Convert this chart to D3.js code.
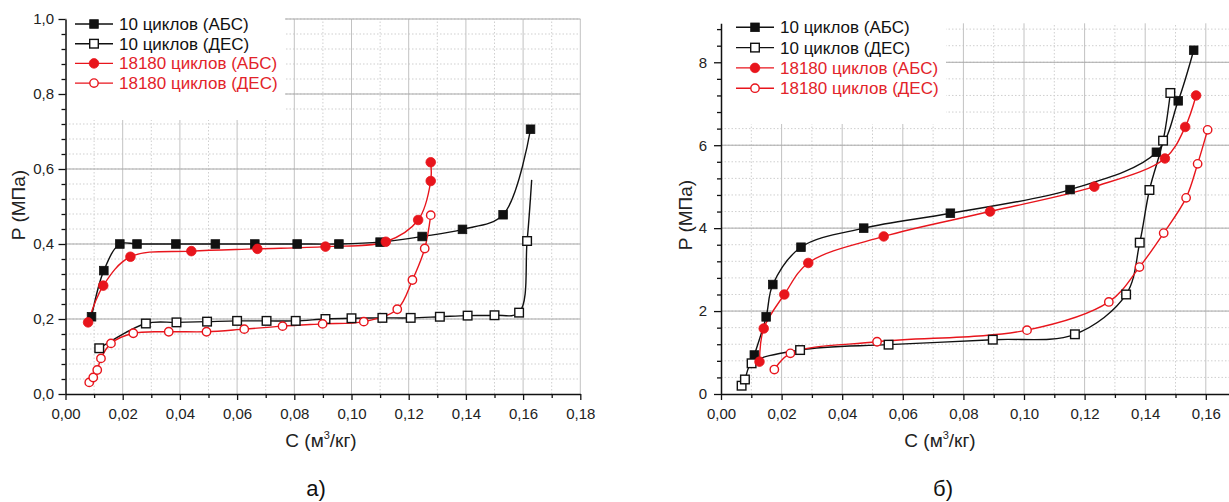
<!DOCTYPE html>
<html>
<head>
<meta charset="utf-8">
<script src="https://cdn.jsdelivr.net/npm/d3@7"></script>
<style>
  html, body { margin: 0; padding: 0; background: #fff; }
  svg { display: block; font-family: "Liberation Sans", Arial, sans-serif; }
</style>
</head>
<body>
<svg id="chart" width="1229" height="502"></svg>
<script>
// Two P–C isotherm panels: а) and б)

// ---- data: [C (м3/кг), P (МПа)] ----
// panel а)
const a_abs10 = [[0.0091,0.206],[0.0134,0.329],[0.019,0.40],[0.025,0.40],[0.0386,0.40],[0.0524,0.40],
  [0.0662,0.40],[0.081,0.40],[0.0956,0.40],[0.110,0.405],[0.1247,0.42],[0.1388,0.439],[0.153,0.478],[0.1626,0.706]];
const a_des10 = [[0.0118,0.122],[0.0281,0.188],[0.0388,0.191],[0.0495,0.193],[0.060,0.195],[0.0703,0.195],
  [0.0805,0.195],[0.0909,0.20],[0.100,0.202],[0.1108,0.203],[0.1207,0.203],[0.1309,0.206],[0.1406,0.209],
  [0.150,0.21],[0.1586,0.217],[0.1614,0.408]];
const a_des10Tail = [[0.163,0.571]]; // line end without marker
const a_abs18180 = [[0.0079,0.191],[0.0132,0.289],[0.0227,0.366],[0.044,0.381],[0.0671,0.387],[0.0909,0.393],
  [0.112,0.406],[0.1233,0.464],[0.1277,0.568],[0.1277,0.618]];
const a_des18180 = [[0.0083,0.031],[0.0097,0.044],[0.0111,0.064],[0.0124,0.095],[0.0159,0.135],[0.0237,0.162],
  [0.0361,0.166],[0.0493,0.166],[0.0625,0.173],[0.0759,0.181],[0.0899,0.187],[0.1043,0.193],[0.116,0.226],
  [0.1213,0.304],[0.1256,0.388],[0.1277,0.477]];

// panel б)
const b_abs10 = [[0.011,0.94],[0.0149,1.86],[0.0171,2.64],[0.0264,3.54],[0.0471,4.0],[0.0757,4.36],
  [0.1152,4.93],[0.1437,5.83],[0.1509,7.07],[0.156,8.29]];
const b_des10 = [[0.0068,0.2],[0.0079,0.35],[0.0101,0.74],[0.0261,1.06],[0.0553,1.19],[0.0897,1.31],
  [0.1168,1.44],[0.1337,2.40],[0.1382,3.65],[0.1414,4.92],[0.1459,6.11],[0.1483,7.26]];
const b_abs18180 = [[0.0127,0.78],[0.0141,1.58],[0.0209,2.40],[0.0288,3.16],[0.0537,3.80],[0.0888,4.40],
  [0.1232,5.0],[0.1465,5.68],[0.1532,6.44],[0.1568,7.20]];
const b_des18180 = [[0.0176,0.59],[0.0229,0.98],[0.0515,1.26],[0.101,1.54],[0.128,2.22],[0.1381,3.06],
  [0.1461,3.88],[0.1535,4.73],[0.1573,5.55],[0.1606,6.37]];

// ticks and labels
const a_xTicks = [0, 0.02, 0.04, 0.06, 0.08, 0.10, 0.12, 0.14, 0.16, 0.18];
const b_xTicks = [0, 0.02, 0.04, 0.06, 0.08, 0.10, 0.12, 0.14, 0.16];
const a_yTicks = [0, 0.2, 0.4, 0.6, 0.8, 1.0];
const b_yTicks = [0, 2, 4, 6, 8];
const legendLabels = ['10 циклов (АБС)', '10 циклов (ДЕС)', '18180 циклов (АБС)', '18180 циклов (ДЕС)'];
const xTitle = 'C (м';
const yTitle = 'P (МПа)';
const captions = ['а)', 'б)'];

const RED = '#e8151c';
const W = 1229;
const svg = d3.select('#chart');
const comma = f => v => d3.format(f)(v).replace('.', ',');

function drawPanel(o) {
  const g = svg.append('g');
  const x = o.x, y = o.y;
  const [x0, x1] = x.range();
  const xEnd = Math.min(x1, W);
  const [yb, yt] = y.range();

  // grid
  const grid = g.append('g');
  const xMinor = d3.range(0.01, 0.181, 0.02).filter(v => x(v) <= W);
  const xMajor = d3.range(0.02, 0.181, 0.02).filter(v => x(v) <= W);
  grid.selectAll('.vmin').data(xMinor).join('line')
    .attr('x1', d => x(d)).attr('x2', d => x(d)).attr('y1', yb).attr('y2', yt)
    .attr('stroke', '#cfcfcf').attr('stroke-dasharray', '1.5,2');
  grid.selectAll('.hmin').data(o.yMinor).join('line')
    .attr('x1', x0).attr('x2', xEnd).attr('y1', d => y(d)).attr('y2', d => y(d))
    .attr('stroke', '#cfcfcf').attr('stroke-dasharray', '1.5,2');
  grid.selectAll('.vmaj').data(xMajor).join('line')
    .attr('x1', d => x(d)).attr('x2', d => x(d)).attr('y1', yb).attr('y2', yt)
    .attr('stroke', '#c2c2c2');
  grid.selectAll('.hmaj').data(o.yTicks.slice(1)).join('line')
    .attr('x1', x0).attr('x2', xEnd).attr('y1', d => y(d)).attr('y2', d => y(d))
    .attr('stroke', '#a9a9a9');

  // legend backdrop hides grid
  g.append('rect').attr('x', x0 + 1).attr('y', yt - 4)
    .attr('width', o.maskRight - x0 - 1).attr('height', o.maskBottom - yt + 4)
    .attr('fill', '#fff');

  // axes
  const ax = g.append('g');
  ax.append('g').attr('transform', `translate(0,${yb})`)
    .call(d3.axisBottom(x).tickValues(o.xTicks).tickFormat(comma('.2f')).tickSize(6).tickSizeOuter(0).tickPadding(8.5));
  ax.append('g').attr('transform', `translate(0,${yb})`)
    .call(d3.axisBottom(x).tickValues(xMinor).tickFormat('').tickSize(4).tickSizeOuter(0))
    .select('.domain').remove();
  ax.append('g').attr('transform', `translate(${x0},0)`)
    .call(d3.axisLeft(y).tickValues(o.yTicks).tickFormat(o.yFormat).tickSize(7).tickSizeOuter(0).tickPadding(o.yPad));
  ax.append('g').attr('transform', `translate(${x0},0)`)
    .call(d3.axisLeft(y).tickValues(o.yMinor.filter(v => !o.yTicks.includes(v))).tickFormat('').tickSize(4).tickSizeOuter(0))
    .select('.domain').remove();
  ax.selectAll('.domain').attr('stroke', '#111').attr('stroke-width', 1.5);
  ax.selectAll('.tick line').attr('stroke', '#111').attr('stroke-width', 1.3);
  ax.selectAll('.tick text').attr('fill', '#222').attr('font-size', 15)
    .attr('font-family', '"Liberation Sans", Arial, sans-serif');

  // series
  const line = d3.line().x(d => x(d[0])).y(d => y(d[1])).curve(d3.curveCatmullRom.alpha(0.5));
  o.series.forEach(s => {
    g.append('path').datum(s.data.concat(s.tail || []))
      .attr('fill', 'none').attr('stroke', s.color).attr('stroke-width', 1.4).attr('d', line);
  });
  o.series.forEach(s => drawMarkers(g, s.data, s, x, y));

  // legend
  const lg = g.append('g');
  o.series.forEach((s, i) => {
    const ly = o.legendY + i * o.legendStep;
    lg.append('line').attr('x1', o.legendX).attr('x2', o.legendX + 38).attr('y1', ly).attr('y2', ly)
      .attr('stroke', s.color).attr('stroke-width', 1.4);
    drawMarkers(lg, [[0, 0]], s, () => o.legendX + 19, () => ly);
    lg.append('text').attr('x', o.legendX + 44).attr('y', ly).attr('dy', '0.35em')
      .attr('font-size', 17).attr('fill', s.color === RED ? '#e2232a' : '#111').text(legendLabels[i]);
  });

  // titles
  const xt = g.append('text').attr('x', o.xTitleX).attr('y', 447).attr('text-anchor', 'middle')
    .attr('font-size', 19).attr('fill', '#222');
  xt.append('tspan').text(xTitle);
  xt.append('tspan').attr('dy', -8).attr('font-size', 11).text('3');
  xt.append('tspan').attr('dy', 8).text('/кг)');
  g.append('text').attr('transform', `translate(${o.yTitleX},${o.yTitleY}) rotate(-90)`)
    .attr('text-anchor', 'middle').attr('font-size', 19).attr('fill', '#222').text(yTitle);
  g.append('text').attr('x', o.captionX).attr('y', 496).attr('text-anchor', 'middle')
    .attr('font-size', 22).attr('fill', '#111').text(o.caption);
}

function drawMarkers(g, data, s, x, y) {
  const fill = s.open ? '#fff' : s.color;
  if (s.shape === 'square') {
    g.selectAll(null).data(data).join('rect')
      .attr('x', d => x(d[0]) - 4.3).attr('y', d => y(d[1]) - 4.3)
      .attr('width', 8.6).attr('height', 8.6)
      .attr('fill', fill).attr('stroke', s.color).attr('stroke-width', s.open ? 1.4 : 0.8);
  } else {
    g.selectAll(null).data(data).join('circle')
      .attr('cx', d => x(d[0])).attr('cy', d => y(d[1])).attr('r', s.open ? 4.2 : 4.8)
      .attr('fill', fill).attr('stroke', s.color).attr('stroke-width', s.open ? 1.4 : 0.8);
  }
}

drawPanel({
  x: d3.scaleLinear([0, 0.18], [65.5, 580.3]),
  y: d3.scaleLinear([0, 1.0], [394, 19]),
  xTicks: a_xTicks,
  yTicks: a_yTicks,
  yMinor: d3.range(0.04, 1.001, 0.04).map(v => +v.toFixed(2)),
  yFormat: comma('.1f'),
  yPad: 4.5,
  maskRight: 285, maskBottom: 120,
  legendX: 75, legendY: 24, legendStep: 19.7,
  xTitleX: 321, yTitleX: 25, yTitleY: 205,
  captionX: 316, caption: captions[0],
  series: [
    { data: a_abs10, color: '#111', shape: 'square', open: false },
    { data: a_des10, tail: a_des10Tail, color: '#111', shape: 'square', open: true },
    { data: a_abs18180, color: RED, shape: 'circle', open: false },
    { data: a_des18180, color: RED, shape: 'circle', open: true }
  ]
});

drawPanel({
  x: d3.scaleLinear([0, 0.18], [721, 1266.4]),
  y: d3.scaleLinear([0, 8.94], [394, 23.3]),
  xTicks: b_xTicks,
  yTicks: b_yTicks,
  yMinor: d3.range(0.4, 8.9, 0.4).map(v => +v.toFixed(1)),
  yFormat: d3.format('d'),
  yPad: 7,
  maskRight: 946, maskBottom: 124,
  legendX: 736, legendY: 27.3, legendStep: 20.3,
  xTitleX: 940, yTitleX: 692, yTitleY: 215,
  captionX: 943, caption: captions[1],
  series: [
    { data: b_abs10, color: '#111', shape: 'square', open: false },
    { data: b_des10, color: '#111', shape: 'square', open: true },
    { data: b_abs18180, color: RED, shape: 'circle', open: false },
    { data: b_des18180, color: RED, shape: 'circle', open: true }
  ]
});
</script>
</body>
</html>
